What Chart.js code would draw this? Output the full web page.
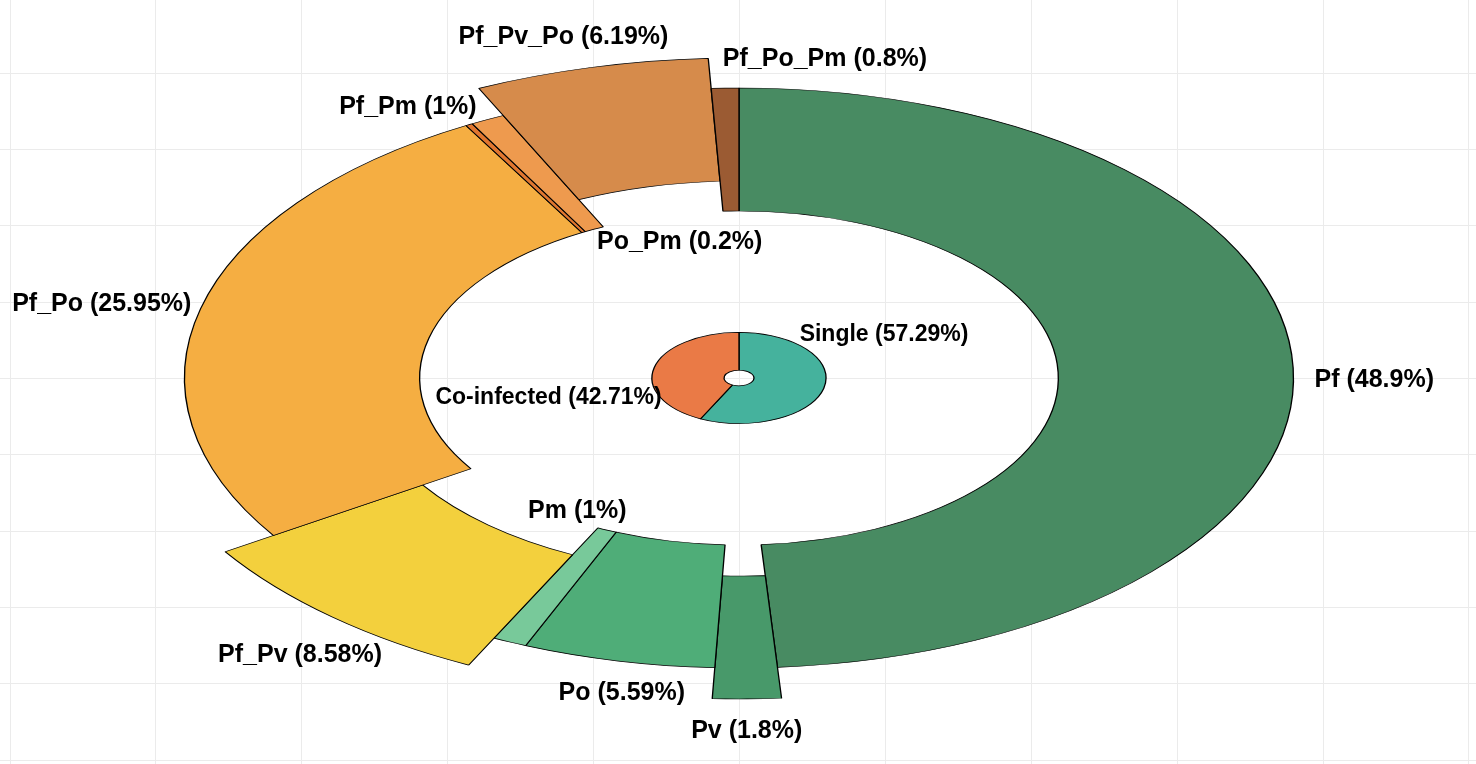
<!DOCTYPE html>
<html lang="en">
<head>
    <meta charset="UTF-8">
    <title>Plasmodium species distribution</title>
    <script src="https://cdn.jsdelivr.net/npm/chart.js"></script>
    <style>
        body { margin: 0; background: #fff; }
        #wrap { width: 1476px; height: 764px; }
    </style>
</head>
<body>
<div id="wrap"><canvas id="pieChart" width="1476" height="764"></canvas></div>
<script>
    // outer ring: species / combinations (% of positive samples)
    const outerLabels = ['Pf', 'Pv', 'Po', 'Pm', 'Pf_Pv', 'Pf_Po', 'Po_Pm', 'Pf_Pm', 'Pf_Pv_Po', 'Pf_Po_Pm'];
    const outerValues = [48.9, 1.8, 5.59, 1, 8.58, 25.95, 0.2, 1, 6.19, 0.8];

    // inner pie
    const innerLabels = ['Single', 'Co-infected'];
    const innerValues = [57.29, 42.71];

    // styles
    const outerColors = ['#488B62', '#48996A', '#4FAD78', '#78C99A', '#F3D03D',
                         '#F5AE42', '#E0762F', '#EE9A4E', '#D68B4B', '#9B5B33'];
    const innerColors = ['#45B29D', '#EA7A46'];
    const explode = [0, 31, 0, 0, 30, 0, 0, 0, 30, 0]; // radial push of pulled out slices (px)

    const SX = 1.912;   // the original plot wasn't fixed aspect -> ellipse
    const GRID = 76.3;  // grid step (vertical px)

    // label nudges (px) away from the default spot just outside each slice
    const outerNudge = [[-2, 13.5], [-0.5, 19.5], [21.5, -10.5], [102, -171], [-15, 27.5],
                        [-18, 5.5], [251, 155.5], [-42, 26.5], [-21, -17.5], [102, 14.5]];
    const innerNudge = [[47.5, -55], [-93, 32]];

    function drawLabels(chart, dsIndex, labels, values, font, nudges) {
        const ctx = chart.ctx;
        const meta = chart.getDatasetMeta(dsIndex);
        const r = meta.controller.outerRadius * 1.15;
        ctx.font = font;
        meta.data.forEach(function(arc, i) {
            const mid = (arc.startAngle + arc.endAngle) / 2;
            const x = arc.x + Math.cos(mid) * r * SX + nudges[i][0];
            const y = arc.y + Math.sin(mid) * r + nudges[i][1];
            ctx.fillText(labels[i] + ' (' + values[i] + '%)', x, y);
        });
    }

    const stretchPlugin = {
        id: 'stretch',
        afterUpdate(chart) {
            // explode: move the whole slice outwards, keeping its angles
            chart.getDatasetMeta(0).data.forEach(function(arc, i) {
                arc.innerRadius += explode[i];
                arc.outerRadius += explode[i];
            });
        },
        beforeDraw(chart) {
            const ctx = chart.ctx;
            const arc = chart.getDatasetMeta(0).data[0];
            ctx.save();
            ctx.fillStyle = '#fff';
            ctx.fillRect(0, 0, chart.width, chart.height);
            ctx.strokeStyle = '#EBEBEB';
            ctx.lineWidth = 1;
            ctx.beginPath();
            for (let k = -12; k <= 12; k++) {
                const x = Math.round(arc.x + k * GRID * SX) + 0.5;
                const y = Math.round(arc.y + k * GRID) + 0.5;
                ctx.moveTo(x, 0); ctx.lineTo(x, chart.height);
                ctx.moveTo(0, y); ctx.lineTo(chart.width, y);
            }
            ctx.stroke();
            ctx.restore();
        },
        beforeDatasetsDraw(chart) {
            const ctx = chart.ctx;
            const cx = chart.getDatasetMeta(0).data[0].x;
            ctx.save();
            ctx.translate(cx, 0);
            ctx.scale(SX, 1);
            ctx.translate(-cx, 0);
        },
        afterDatasetsDraw(chart) {
            chart.ctx.restore();
        },
        afterDraw(chart) {
            const ctx = chart.ctx;
            ctx.save();
            ctx.fillStyle = '#000';
            ctx.textAlign = 'center';
            ctx.textBaseline = 'middle';
            drawLabels(chart, 0, outerLabels, outerValues, 'bold 25px "Liberation Sans", Arial, sans-serif', outerNudge);
            drawLabels(chart, 2, innerLabels, innerValues, 'bold 23px "Liberation Sans", Arial, sans-serif', innerNudge);
            ctx.restore();
        }
    };

    const ctx = document.getElementById('pieChart').getContext('2d');
    const myChart = new Chart(ctx, {
        type: 'doughnut',
        data: {
            labels: outerLabels,
            datasets: [{
                label: 'Species',
                data: outerValues,
                backgroundColor: outerColors,
                borderColor: '#000',
                borderWidth: 0.7,
                weight: 123,
                clip: false
            },
            {
                label: 'spacer',
                data: [1],
                backgroundColor: 'rgba(0,0,0,0)',
                borderWidth: 0,
                weight: 121.5,
                clip: false
            },
            {
                label: 'Infection type',
                data: innerValues,
                backgroundColor: innerColors,
                borderColor: '#000',
                borderWidth: 0.7,
                weight: 37.7,
                clip: false
            }]
        },
        options: {
            responsive: false,
            animation: false,
            events: [],
            radius: 290,
            cutout: '2.7%',
            layout: { padding: { left: 2, right: 0, top: 0, bottom: 8 } },
            plugins: {
                legend: { display: false },
                tooltip: { enabled: false }
            }
        },
        plugins: [stretchPlugin]
    });
</script>
</body>
</html>
